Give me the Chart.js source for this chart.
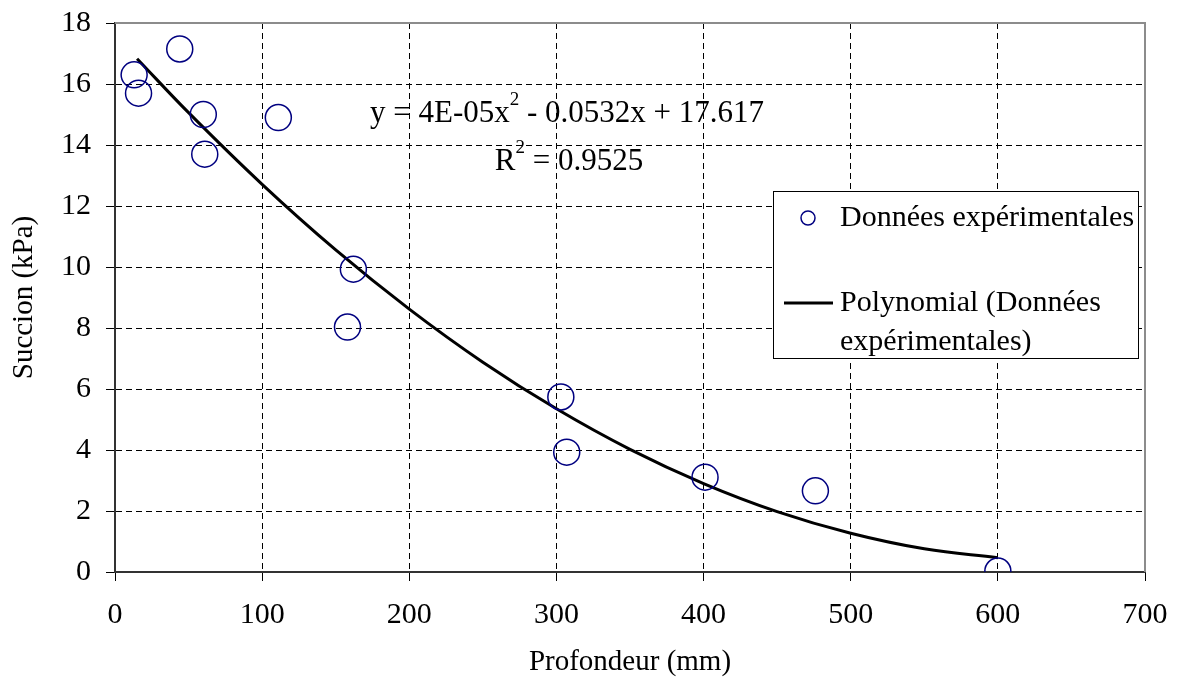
<!DOCTYPE html>
<html>
<head>
<meta charset="utf-8">
<script src="https://cdn.jsdelivr.net/npm/chart.js@4"></script>
<style>
  body { margin: 0; background: #fff; }
</style>
</head>
<body>
<canvas id="suction-chart" width="1178" height="684"></canvas>
<script>
// mesures (profondeur en mm, succion en kPa)
const depth = [13, 16, 44, 60, 61, 111, 162, 158, 303, 307, 401, 476, 600];
const suction = [16.3, 15.7, 17.15, 15.0, 13.7, 14.9, 9.93, 8.03, 5.74, 3.93, 3.11, 2.66, 0.03];

// courbe de tendance
const trendDepth = [15, 50, 100, 150, 200, 250, 300, 350, 400, 450, 500, 550, 600];
const trendSuction = [16.83, 15.06, 12.71, 10.56, 8.62, 6.88, 5.35, 4.02, 2.90, 1.98, 1.27, 0.76, 0.47];

const seriesLabels = ['Données expérimentales', 'Polynomial (Données expérimentales)'];
const serif = "'Liberation Serif', 'Times New Roman', serif";

const toPoints = (xs, ys) => xs.map((x, i) => ({x: x, y: ys[i]}));

// légende + équation dessinées à la main
const extras = {
  id: 'extras',
  afterDraw(chart) {
    const ctx = chart.ctx;
    const a = chart.chartArea;
    ctx.save();
    // cadre gris haut/droite
    ctx.strokeStyle = '#8c8c8c';
    ctx.lineWidth = 2;
    ctx.beginPath();
    ctx.moveTo(a.left, a.top);
    ctx.lineTo(a.right, a.top);
    ctx.lineTo(a.right, a.bottom);
    ctx.stroke();

    // équation
    ctx.fillStyle = '#000';
    ctx.textBaseline = 'middle';
    ctx.textAlign = 'left';
    const big = '31px ' + serif, small = '19px ' + serif;
    const p1 = 'y = 4E-05x', p2 = ' - 0.0532x + 17.617';
    ctx.font = small;
    const wSup = ctx.measureText('2').width;
    ctx.font = big;
    const w1 = ctx.measureText(p1).width, w2 = ctx.measureText(p2).width;
    let x0 = 567 - (w1 + wSup + w2) / 2;
    ctx.fillText(p1, x0, 114);
    ctx.font = small;
    ctx.fillText('2', x0 + w1, 100);
    ctx.font = big;
    ctx.fillText(p2, x0 + w1 + wSup, 114);

    const r1 = 'R', r2 = ' = 0.9525';
    const wr1 = ctx.measureText(r1).width, wr2 = ctx.measureText(r2).width;
    x0 = 569 - (wr1 + wSup + wr2) / 2;
    ctx.fillText(r1, x0, 162);
    ctx.font = small;
    ctx.fillText('2', x0 + wr1, 148);
    ctx.font = big;
    ctx.fillText(r2, x0 + wr1 + wSup, 162);

    // légende
    ctx.fillStyle = '#fff';
    ctx.fillRect(773, 191, 365, 167);
    ctx.strokeStyle = '#000';
    ctx.lineWidth = 1;
    ctx.strokeRect(773.5, 191.5, 365, 167);

    ctx.strokeStyle = '#000080';
    ctx.lineWidth = 1.5;
    ctx.beginPath();
    ctx.arc(808, 218, 7, 0, Math.PI * 2);
    ctx.stroke();

    ctx.strokeStyle = '#000';
    ctx.lineWidth = 3;
    ctx.beginPath();
    ctx.moveTo(784, 303);
    ctx.lineTo(833, 303);
    ctx.stroke();

    ctx.fillStyle = '#000';
    ctx.font = '30px ' + serif;
    ctx.fillText(seriesLabels[0], 840, 218);
    ctx.fillText('Polynomial (Données', 840, 303);
    ctx.fillText('expérimentales)', 840, 342);
    ctx.restore();
  }
};

new Chart(document.getElementById('suction-chart'), {
  type: 'scatter',
  data: {
    datasets: [{
      label: seriesLabels[0],
      data: toPoints(depth, suction),
      pointRadius: 13,
      pointHoverRadius: 13,
      pointBorderColor: '#000080',
      pointBackgroundColor: 'rgba(0,0,0,0)',
      pointBorderWidth: 1.5,
      order: 1
    }, {
      label: seriesLabels[1],
      data: toPoints(trendDepth, trendSuction),
      showLine: true,
      borderColor: '#000',
      borderWidth: 3,
      pointRadius: 0,
      tension: 0.4,
      order: 2
    }]
  },
  plugins: [extras],
  options: {
    responsive: false,
    animation: false,
    layout: {padding: {top: 23, right: 33, left: 0, bottom: 0}},
    plugins: {
      legend: {display: false},
      tooltip: {enabled: false}
    },
    scales: {
      x: {
        min: 0, max: 700,
        ticks: {stepSize: 100, color: '#000', padding: 16, font: {family: serif, size: 30}},
        grid: {color: '#000', lineWidth: 1, tickLength: 9, tickColor: '#000'},
        border: {color: '#333', width: 2, dash: [6, 4]},
        title: {display: true, text: 'Profondeur (mm)', color: '#000',
                font: {family: serif, size: 29}, padding: {top: 0, bottom: 4}},
        afterFit: (s) => { s.height = 112; s.paddingLeft = 0; s.paddingRight = 0; }
      },
      y: {
        min: 0, max: 18,
        ticks: {stepSize: 2, color: '#000', padding: 15, font: {family: serif, size: 30}},
        grid: {color: '#000', lineWidth: 1, tickLength: 9, tickColor: '#000'},
        border: {color: '#333', width: 2, dash: [6, 4]},
        title: {display: true, text: 'Succion (kPa)', color: '#000',
                font: {family: serif, size: 29}, padding: {top: 7, bottom: 0}},
        afterFit: (s) => { s.width = 115; s.paddingTop = 0; s.paddingBottom = 0; }
      }
    }
  }
});
</script>
</body>
</html>
